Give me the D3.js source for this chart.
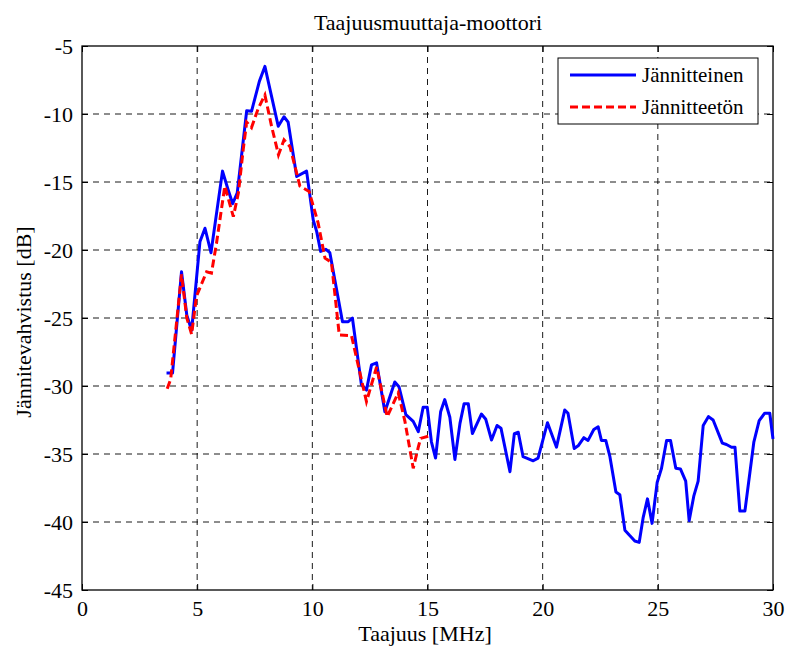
<!DOCTYPE html>
<html><head><meta charset="utf-8">
<script src="https://cdn.jsdelivr.net/npm/d3@7"></script>
<style>body{margin:0;background:#fff}svg{display:block}text{font-family:"Liberation Serif","Times New Roman",serif;fill:#000}</style>
</head><body>
<svg id="c" width="787" height="650"></svg>
<script>
const title = "Taajuusmuuttaja-moottori";
const xLabel = "Taajuus [MHz]";
const yLabel = "Jännitevahvistus [dB]";
const seriesNames = ["Jännitteinen", "Jännitteetön"];
const xTicks = [0,5,10,15,20,25,30];
const yTicks = [-5,-10,-15,-20,-25,-30,-35,-40,-45];

const freqA = [3.67,3.93,4.32,4.55,4.76,5.12,5.34,5.6,6.1,6.33,6.54,6.74,7.15,7.36,7.7,7.94,8.23,8.52,8.77,8.95,9.32,9.75,10.04,10.19,10.36,10.59,10.76,11.31,11.56,11.74,12.13,12.35,12.57,12.79,13.15,13.58,13.76,14.06,14.38,14.6,14.81,14.99,15.17,15.35,15.57,15.75,15.97,16.19,16.41,16.59,16.77,16.95,17.34,17.53,17.78,18.02,18.19,18.58,18.77,18.94,19.15,19.59,19.8,20.21,20.6,20.96,21.1,21.37,21.54,21.79,21.97,22.22,22.41,22.55,22.74,22.92,23.18,23.35,23.57,23.78,24.0,24.19,24.36,24.55,24.75,24.97,25.16,25.38,25.55,25.78,25.98,26.21,26.36,26.56,26.75,26.97,27.2,27.4,27.8,27.98,28.2,28.35,28.56,28.78,29.17,29.4,29.64,29.86,30.0];
const gainA = [-29.05,-29.05,-21.6,-24.8,-25.9,-19.4,-18.4,-20.2,-14.2,-15.5,-16.6,-15.8,-9.76,-9.8,-7.6,-6.5,-8.7,-10.9,-10.2,-10.6,-14.6,-14.2,-17.8,-18.65,-20.1,-19.95,-20.2,-25.27,-25.27,-25.0,-29.9,-30.3,-28.45,-28.3,-31.9,-29.7,-30.05,-32.1,-32.6,-33.36,-31.57,-31.57,-34.1,-35.3,-31.9,-31.0,-32.3,-35.4,-32.75,-31.3,-31.3,-33.5,-32.06,-32.45,-33.97,-32.9,-33.1,-36.3,-33.5,-33.4,-35.2,-35.5,-35.3,-32.7,-34.5,-31.76,-32.0,-34.6,-34.4,-33.8,-34.0,-33.2,-33.0,-34.0,-34.0,-35.2,-37.8,-38.0,-40.6,-41.0,-41.4,-41.5,-39.7,-38.3,-40.1,-37.1,-36.05,-34.0,-34.0,-36.05,-36.1,-37.0,-39.9,-38.1,-37.0,-32.9,-32.25,-32.5,-34.2,-34.3,-34.5,-34.5,-39.2,-39.2,-34.1,-32.55,-32.0,-32.0,-33.9];

const freqB = [3.7,3.85,4.32,4.55,4.76,4.97,5.41,5.62,5.84,6.2,6.57,6.79,7.0,7.15,7.36,7.65,7.94,8.23,8.53,8.77,9.03,9.46,9.86,10.25,10.55,10.83,11.17,11.7,12.35,12.79,13.25,13.73,14.02,14.38,14.6,14.7,15.03];
const gainB = [-30.2,-29.5,-21.8,-25.0,-26.2,-23.4,-21.6,-21.7,-19.5,-15.3,-17.55,-15.8,-12.6,-10.6,-11.0,-9.6,-8.6,-10.9,-13.0,-11.9,-12.4,-15.3,-15.7,-18.0,-20.6,-20.9,-26.25,-26.3,-31.15,-28.6,-32.25,-30.5,-32.6,-36.05,-34.5,-33.85,-33.7];

const colors = ["#0000ff","#ff0000"];
const FONT = '"Liberation Serif","Times New Roman",serif';

const svg = d3.select("#c");
const L=82, R=773, T=46, B=590;
const x = d3.scaleLinear().domain([0,30]).range([L,R]);
const y = d3.scaleLinear().domain([-45,-5]).range([B,T]);

// grid
const g = svg.append("g");
g.selectAll(".gx").data(xTicks.slice(1,-1)).enter().append("line")
 .attr("x1",d=>x(d)).attr("x2",d=>x(d)).attr("y1",T).attr("y2",B)
 .attr("stroke","#000").attr("stroke-width",0.9).attr("stroke-dasharray","6,5");
g.selectAll(".gy").data(yTicks.slice(1,-1)).enter().append("line")
 .attr("y1",d=>y(d)).attr("y2",d=>y(d)).attr("x1",L).attr("x2",R)
 .attr("stroke","#000").attr("stroke-width",0.9).attr("stroke-dasharray","6,5");

// axes
const fmt = d=>String(d);
const xAxB = d3.axisBottom(x).tickValues(xTicks).tickSize(-6).tickPadding(9).tickFormat(fmt);
const xAxT = d3.axisTop(x).tickValues(xTicks).tickSize(-6).tickFormat("");
const yAxL = d3.axisLeft(y).tickValues(yTicks).tickSize(-6).tickPadding(9).tickFormat(fmt);
const yAxR = d3.axisRight(y).tickValues(yTicks).tickSize(-6).tickFormat("");
function style(sel){sel.attr("font-family",FONT).attr("font-size",22);sel.select(".domain").remove();sel.selectAll("line").attr("stroke","#000");sel.selectAll("text").attr("font-size",22).style("font-family",FONT);}
svg.append("g").attr("transform",`translate(0,${B})`).call(xAxB).call(style).selectAll("text").attr("dy","0.75em");
svg.append("g").attr("transform",`translate(0,${T})`).call(xAxT).call(style);
svg.append("g").attr("transform",`translate(${L},0)`).call(yAxL).call(style);
svg.append("g").attr("transform",`translate(${R},0)`).call(yAxR).call(style);
svg.append("rect").attr("x",L).attr("y",T).attr("width",R-L).attr("height",B-T).attr("fill","none").attr("stroke","#000").attr("stroke-width",1.3);

// lines
const line = d3.line().x(d=>x(d[0])).y(d=>y(d[1]));
const dA = freqA.map((f,i)=>[f,gainA[i]]);
const dB = freqB.map((f,i)=>[f,gainB[i]]);
svg.append("path").datum(dA).attr("d",line).attr("fill","none").attr("stroke",colors[0]).attr("stroke-width",3).attr("stroke-linejoin","round");
svg.append("path").datum(dB).attr("d",line).attr("fill","none").attr("stroke",colors[1]).attr("stroke-width",3).attr("stroke-dasharray","8,4");

// legend
const lg = svg.append("g");
lg.append("rect").attr("x",558).attr("y",58).attr("width",200).attr("height",66).attr("fill","#fff").attr("stroke","#000").attr("stroke-width",1);
seriesNames.forEach((n,i)=>{
  const yy = 75 + i*32;
  lg.append("line").attr("x1",570).attr("x2",636).attr("y1",yy).attr("y2",yy).attr("stroke",colors[i]).attr("stroke-width",3).attr("stroke-dasharray",i?"8,4":null);
  lg.append("text").attr("x",642).attr("y",yy).attr("dy","0.35em").attr("font-size",21).style("font-family",FONT).text(n);
});

// titles
svg.append("text").attr("x",428).attr("y",30).attr("text-anchor","middle").attr("font-size",22).style("font-family",FONT).text(title);
svg.append("text").attr("x",425).attr("y",641).attr("text-anchor","middle").attr("font-size",22).style("font-family",FONT).text(xLabel);
svg.append("text").attr("transform",`translate(31,322) rotate(-90)`).attr("text-anchor","middle").attr("font-size",22).style("font-family",FONT).text(yLabel);
</script>
</body></html>
